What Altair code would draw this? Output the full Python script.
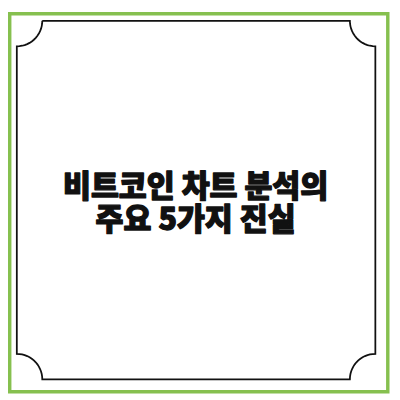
import altair as alt
import numpy as np
import pandas as pd

# Title text (two lines) and its anchor in page coordinates
title_text = ["비트코인 차트 분석의\n주요 5가지 진실"]
title_x = [199.5]
title_y = [187.5]

# Outer green frame (page coordinates)
green_x = [9.75]
green_x2 = [395.7]
green_y = [9.75]
green_y2 = [395.7]

# Inner black frame with concave corners
inner_lo, inner_hi, corner_r = 17, 383, 26

def arc(cx, cy, a0, a1, n=16):
    t = np.linspace(np.radians(a0), np.radians(a1), n)
    return list(zip(cx + corner_r * np.cos(t), cy + corner_r * np.sin(t)))

lo, hi, r = inner_lo, inner_hi, corner_r
pts = []
pts += [(lo + r, lo), (hi - r, lo)]
pts += arc(hi, lo, 180, 90)          # top-right concave (y down)
pts += [(hi, hi - r)]
pts += arc(hi, hi, 270, 180)         # bottom-right
pts += [(lo + r, hi)]
pts += arc(lo, hi, 0, -90)           # bottom-left
pts += [(lo, lo + r)]
pts += arc(lo, lo, 90, 0)            # top-left
frame = pd.DataFrame({"x": [p[0] for p in pts], "y": [p[1] for p in pts],
                      "o": list(range(len(pts)))})

xs = alt.Scale(domain=[8, 400], nice=False, zero=False)
ys = alt.Scale(domain=[8, 400], nice=False, zero=False, reverse=True)

green = alt.Chart(pd.DataFrame({"x": green_x, "x2": green_x2, "y": green_y, "y2": green_y2})).mark_rect(
    fill=None, stroke="#86c04f", strokeWidth=3.5
).encode(
    x=alt.X("x:Q", scale=xs, axis=None), x2="x2:Q",
    y=alt.Y("y:Q", scale=ys, axis=None), y2="y2:Q",
)

inner = alt.Chart(frame).mark_line(color="#111111", strokeWidth=1.8).encode(
    x=alt.X("x:Q", scale=xs, axis=None),
    y=alt.Y("y:Q", scale=ys, axis=None),
    order="o:Q",
)

text = alt.Chart(pd.DataFrame({"t": title_text, "x": title_x, "y": title_y})).mark_text(
    font="'Noto Sans CJK KR Black', 'Noto Sans CJK KR'", fontWeight=900, fontSize=31,
    color="#111111", stroke="#111111", strokeWidth=1.3, strokeJoin="round",
    align="center", baseline="middle", lineBreak="\n", lineHeight=34
).encode(
    x=alt.X("x:Q", scale=xs, axis=None),
    y=alt.Y("y:Q", scale=ys, axis=None),
    text="t:N",
)

chart = alt.layer(green, inner, text).properties(
    width=392, height=392, padding=0, autosize=alt.AutoSizeParams(type="none"),
    background="white"
).configure_view(strokeWidth=0)

chart.save("out.html", embed_options={"renderer": "svg", "actions": False})
